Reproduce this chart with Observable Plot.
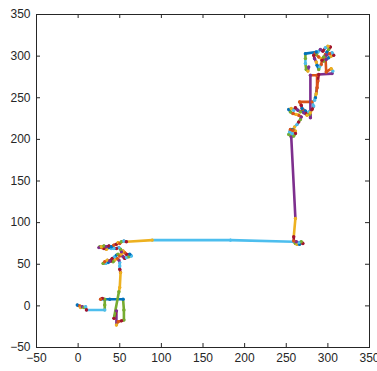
<!DOCTYPE html>
<html>
<head>
<meta charset="utf-8">
<script src="https://cdn.jsdelivr.net/npm/d3@7"></script>
<script src="https://cdn.jsdelivr.net/npm/@observablehq/plot@0.6"></script>
<style>
  html, body { margin: 0; padding: 0; background: #ffffff; }
  #chart { width: 377px; height: 371px; }
</style>
</head>
<body>
<div id="chart"></div>
<script>
// Path vertices (x, y) and the colour key of the segment arriving at each vertex
const pathX = [
  0, -1, 2, 3, 5, 7, 9, 10, 32, 32,
  32, 29, 27, 38, 54, 55, 55, 52, 48, 46,
  46, 43, 49, 50, 51, 50, 50, 50, 49, 47,
  44, 42, 39, 36, 33, 30, 32, 35, 38, 41,
  44, 46, 48, 50, 52, 54, 56, 58, 61, 64,
  62, 58, 56, 54, 52, 51, 49, 46, 43, 40,
  37, 34, 31, 28, 26, 25, 28, 31, 34, 37,
  40, 43, 46, 48, 50, 52, 55, 58, 89, 183,
  259, 261, 263, 266, 269, 270, 268, 265, 262, 259,
  259, 261, 256, 253, 254, 255, 258, 261, 261, 259,
  257, 258, 260, 263, 265, 267, 268, 265, 262, 258,
  255, 253, 256, 259, 261, 264, 267, 270, 273, 274,
  277, 278, 275, 271, 269, 268, 266, 281, 283, 281,
  279, 279, 279, 287, 287, 285, 284, 286, 288, 289,
  305, 306, 304, 298, 297, 299, 301, 303, 300, 297,
  294, 291, 288, 286, 289, 292, 295, 298, 301, 304,
  307, 305, 302, 298, 295, 293, 292, 290, 289, 287,
  286, 284, 283, 285, 286, 273, 273, 273, 274, 276, 277];
const pathY = [
  0, 1, 0, -2, -1, -2, -1, -5, -5, 1,
  8, 9, 8, 8, 8, -5, -17, -18, -19, -23,
  -6, -15, 17, 22, 40, 44, 48, 52, 55, 57,
  55, 53, 54, 52, 51, 51, 53, 55, 54, 57,
  59, 61, 62, 60, 62, 59, 57, 58, 59, 60,
  62, 62, 64, 66, 65, 68, 70, 69, 69, 69,
  70, 68, 69, 70, 71, 70, 71, 72, 71, 72,
  71, 73, 74, 76, 75, 77, 78, 77, 79, 79,
  77, 75, 74, 74, 76, 75, 77, 76, 77, 78,
  83, 105, 203, 206, 209, 212, 212, 210, 207, 204,
  207, 211, 215, 218, 221, 224, 227, 229, 230, 231,
  233, 236, 237, 235, 238, 235, 233, 236, 234, 231,
  233, 230, 229, 232, 237, 241, 245, 245, 240, 236,
  232, 226, 277, 277, 262, 250, 247, 255, 270, 278,
  279, 282, 285, 281, 302, 305, 308, 311, 312, 310,
  306, 308, 305, 302, 299, 297, 294, 296, 298, 300,
  301, 304, 303, 301, 299, 295, 290, 287, 284, 289,
  293, 297, 301, 304, 305, 303, 297, 291, 284, 282, 287];
const segColor = [
  "", "b", "o", "y", "p", "g", "c", "r", "c", "g",
  "g", "r", "o", "b", "b", "g", "g", "r", "o", "y",
  "p", "r", "g", "y", "y", "r", "c", "c", "p", "o",
  "y", "g", "r", "b", "c", "g", "o", "y", "p", "r",
  "c", "b", "g", "o", "y", "p", "r", "c", "g", "c",
  "b", "r", "o", "y", "p", "g", "c", "r", "c", "c",
  "b", "y", "r", "o", "g", "p", "y", "g", "p", "r",
  "b", "o", "r", "y", "o", "g", "c", "r", "y", "c",
  "c", "g", "y", "b", "o", "r", "g", "c", "p", "o",
  "r", "y", "p", "g", "c", "o", "b", "y", "r", "g",
  "c", "o", "y", "c", "r", "g", "p", "o", "y", "o",
  "g", "b", "y", "c", "r", "p", "g", "o", "b", "r",
  "c", "g", "y", "p", "b", "r", "o", "o", "c", "r",
  "y", "p", "p", "o", "o", "b", "c", "y", "o", "r",
  "p", "c", "y", "o", "o", "b", "g", "r", "y", "c",
  "r", "p", "c", "g", "o", "y", "g", "p", "b", "y",
  "r", "c", "o", "p", "g", "r", "o", "c", "g", "b",
  "y", "p", "r", "o", "b", "b", "g", "c", "g", "y", "p"];
const palette = {b: "#0072BD", o: "#D95319", y: "#EDB120", p: "#7E2F8E", g: "#77AC30", c: "#4DBEEE", r: "#A2142F"};
const axisTicks = [-50, 0, 50, 100, 150, 200, 250, 300, 350];

const n = Math.min(pathX.length, pathY.length);
const segments = [];
const vertices = [];
for (let i = 1; i < n; i++) {
  const color = palette[segColor[i]] || palette.b;
  segments.push({x1: pathX[i - 1], y1: pathY[i - 1], x2: pathX[i], y2: pathY[i], color});
  vertices.push({x: pathX[i], y: pathY[i], color});
}

const W = 377, H = 371, mL = 36, mR = 8, mT = 14, mB = 24;
const tickLen = 4;
const frameW = W - mL - mR, frameH = H - mT - mB;
const font = "'Liberation Sans', Arial, sans-serif";
const chart = Plot.plot({
  width: W,
  height: H,
  marginLeft: mL,
  marginRight: mR,
  marginTop: mT,
  marginBottom: mB,
  style: {fontFamily: font, fontSize: "12px", color: "#333", background: "#fff", overflow: "visible"},
  x: {domain: [-50, 350], ticks: axisTicks},
  y: {domain: [-50, 350], ticks: axisTicks},
  color: {type: "identity"},
  marks: [
    Plot.link(segments, {x1: "x1", y1: "y1", x2: "x2", y2: "y2", stroke: "color",
      strokeWidth: 2.6, strokeLinecap: "round", strokeLinejoin: "round"}),
    Plot.dot(vertices, {x: "x", y: "y", fill: "color", r: 1.7, stroke: null}),
    // inward tick marks on all four sides
    Plot.tickX(axisTicks, {x: d => d, insetTop: frameH - tickLen, stroke: "#262626", strokeWidth: 1}),
    Plot.tickX(axisTicks, {x: d => d, insetBottom: frameH - tickLen, stroke: "#262626", strokeWidth: 1}),
    Plot.tickY(axisTicks, {y: d => d, insetRight: frameW - tickLen, stroke: "#262626", strokeWidth: 1}),
    Plot.tickY(axisTicks, {y: d => d, insetLeft: frameW - tickLen, stroke: "#262626", strokeWidth: 1}),
    Plot.frame({stroke: "#262626", strokeWidth: 1}),
    // tick labels
    Plot.axisX(axisTicks, {anchor: "bottom", tickSize: 0, tickPadding: 6, label: null, fill: "#262626"}),
    Plot.axisY(axisTicks, {anchor: "left", tickSize: 0, tickPadding: 6, label: null, fill: "#262626"})
  ]
});
document.getElementById("chart").appendChild(chart);
</script>
</body>
</html>
